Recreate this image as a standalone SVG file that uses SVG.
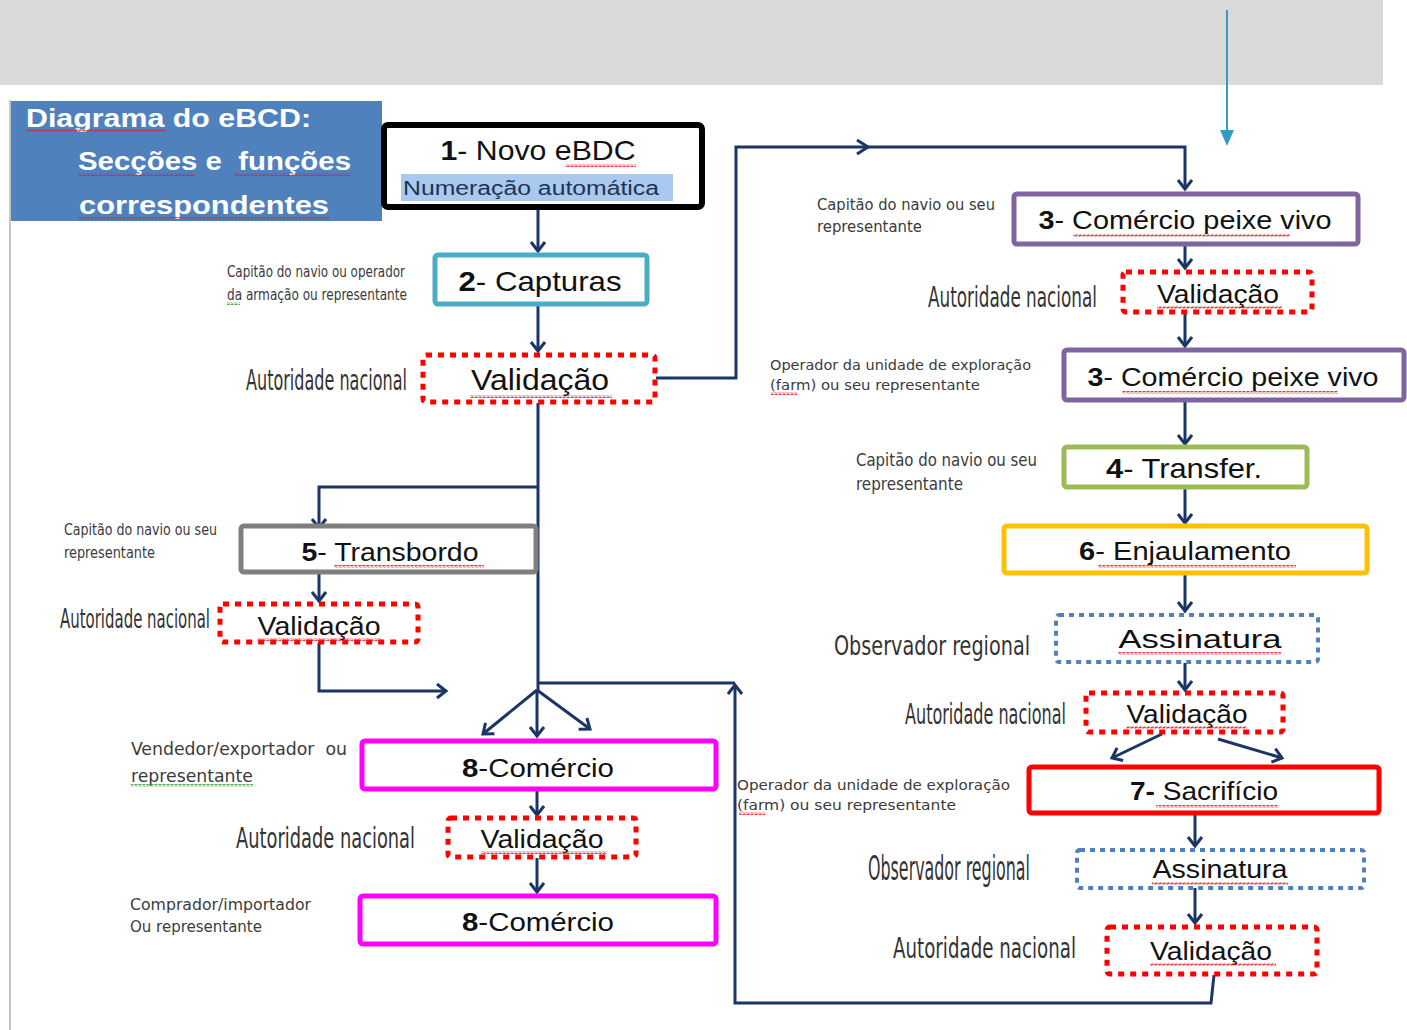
<svg xmlns="http://www.w3.org/2000/svg" width="1407" height="1030" viewBox="0 0 1407 1030">
<defs>
<marker id="ah" markerUnits="userSpaceOnUse" markerWidth="18" markerHeight="18" refX="11" refY="9" orient="auto">
<path d="M2,2 L11,9 L2,16" fill="none" stroke="#1b3566" stroke-width="3" stroke-linejoin="miter"/>
</marker>
<pattern id="wavyR" width="4" height="3" patternUnits="userSpaceOnUse">
<path d="M0,2.5 L1,0.5 L3,2.5 L4,0.5" fill="none" stroke="#e0202a" stroke-width="0.9"/>
</pattern>
<pattern id="wavyG" width="4" height="3" patternUnits="userSpaceOnUse">
<path d="M0,2.5 L1,0.5 L3,2.5 L4,0.5" fill="none" stroke="#3aa03a" stroke-width="0.9"/>
</pattern>
<style>
.box{fill:#fff;stroke-width:5}
.val{fill:#fff;stroke:#ff0000;stroke-width:5;stroke-dasharray:6 6}
.ass{fill:#fff;stroke:#4f81bd;stroke-width:4;stroke-dasharray:5 5}
.t{font-family:"Liberation Sans",Arial,sans-serif;fill:#111;text-anchor:middle}
.lab{font-family:"DejaVu Sans Condensed","DejaVu Sans",sans-serif;font-stretch:condensed;fill:#3b3b3b;white-space:pre}
.big{font-family:"DejaVu Sans Condensed","DejaVu Sans",sans-serif;font-stretch:condensed;fill:#333;font-size:16px}
.ttl{font-family:"Liberation Sans",Arial,sans-serif;font-weight:bold;fill:#fff;font-size:26px;white-space:pre}
.c{fill:none;stroke:#1b3566;stroke-width:3}
.w{fill:url(#wavyR)}
.wg{fill:url(#wavyG)}
</style>
</defs>
<rect x="0" y="0" width="1407" height="1030" fill="#fff"/>
<rect x="0" y="0" width="1383" height="85" fill="#d9d9d9"/>
<line x1="10" y1="100" x2="10" y2="1030" stroke="#c3c5cc" stroke-width="2"/>

<g id="teal-arrow">
<line x1="1227" y1="10" x2="1227" y2="132" stroke="#2e9fc0" stroke-width="2"/>
<polygon points="1220,130 1234,130 1227,146" fill="#2e9fc0"/>
</g>

<g id="title">
<rect x="11" y="101" width="371" height="120" fill="#4f81bd"/>
<text class="ttl" x="26" y="127" textLength="285" lengthAdjust="spacingAndGlyphs">Diagrama do eBCD:</text>
<text class="ttl" x="78" y="170" textLength="273" lengthAdjust="spacingAndGlyphs">Secções e  funções</text>
<text class="ttl" x="79" y="214" textLength="250" lengthAdjust="spacingAndGlyphs">correspondentes</text>
<rect class="w" x="26" y="129" width="139" height="3"/>
<rect class="w" x="78" y="173" width="117" height="3"/>
<rect class="w" x="235" y="173" width="116" height="3"/>
<rect class="w" x="79" y="217" width="250" height="3"/>
</g>

<g id="connectors">
<path class="c" d="M538,209 V251" marker-end="url(#ah)"/>
<path class="c" d="M538,305 V351" marker-end="url(#ah)"/>
<path class="c" d="M656,378 H736 V147 H1185 V189" marker-end="url(#ah)"/>
<path class="c" d="M857,140 L868,147 L857,154"/>
<path class="c" d="M1185,245 V268" marker-end="url(#ah)"/>
<path class="c" d="M1185,313 V346" marker-end="url(#ah)"/>
<path class="c" d="M1185,401 V444" marker-end="url(#ah)"/>
<path class="c" d="M1185,488 V523" marker-end="url(#ah)"/>
<path class="c" d="M1185,574 V611" marker-end="url(#ah)"/>
<path class="c" d="M1185,663 V690" marker-end="url(#ah)"/>
<path class="c" d="M1162,734 L1112,758" marker-end="url(#ah)"/>
<path class="c" d="M1218,739 L1282,758" marker-end="url(#ah)"/>
<path class="c" d="M1195,814 V846" marker-end="url(#ah)"/>
<path class="c" d="M1195,888 V923" marker-end="url(#ah)"/>
<path class="c" d="M1214,975 L1211,1003 H735 V685" marker-end="url(#ah)"/>
<path class="c" d="M537,683 H735"/>
<path class="c" d="M538,403 V690"/>
<path class="c" d="M538,487 H319 V528" marker-end="url(#ah)"/>
<path class="c" d="M319,530 V601" marker-end="url(#ah)"/>
<path class="c" d="M319,643 V691 H446" marker-end="url(#ah)"/>
<path class="c" d="M537,690 L483,734" marker-end="url(#ah)"/>
<path class="c" d="M537,690 V736" marker-end="url(#ah)"/>
<path class="c" d="M537,690 L590,729" marker-end="url(#ah)"/>
<path class="c" d="M537,790 V815" marker-end="url(#ah)"/>
<path class="c" d="M537,858 V892" marker-end="url(#ah)"/>
</g>

<g id="n1">
<rect x="384" y="125" width="318" height="82" rx="4" fill="#fff" stroke="#000" stroke-width="6"/>
<rect x="401" y="174" width="272" height="27" fill="#a9c9ee"/>
<text class="t" x="538" y="160" font-size="28" textLength="195" lengthAdjust="spacingAndGlyphs"><tspan font-weight="bold">1</tspan>- Novo eBDC</text>
<rect class="w" x="565" y="164" width="71" height="3"/>
<text class="t" x="531" y="195" font-size="20" textLength="256" lengthAdjust="spacingAndGlyphs" style="fill:#1f3255">Numeração automática</text>
</g>

<g id="n2">
<rect class="box" x="435" y="255" width="212" height="49" rx="3" stroke="#4bacc6"/>
<text class="t" x="540" y="291" font-size="28" textLength="163" lengthAdjust="spacingAndGlyphs"><tspan font-weight="bold">2</tspan>- Capturas</text>
<text class="lab" x="227" y="277" font-size="15" textLength="178" lengthAdjust="spacingAndGlyphs">Capitão do navio ou operador</text>
<text class="lab" x="227" y="300" font-size="15" textLength="180" lengthAdjust="spacingAndGlyphs">da armação ou representante</text>
<rect class="wg" x="227" y="302" width="13" height="3"/>
</g>

<g id="v1">
<rect class="val" x="423" y="355" width="232" height="47" rx="3"/>
<text class="t" x="540" y="390" font-size="29" textLength="138" lengthAdjust="spacingAndGlyphs">Validação</text>
<rect class="w" x="470" y="395" width="142" height="3"/>
<text class="big" transform="translate(246,390) scale(1,1.8)" textLength="161" lengthAdjust="spacingAndGlyphs">Autoridade nacional</text>
</g>

<g id="n3a">
<rect class="box" x="1014" y="194" width="344" height="50" rx="3" stroke="#8064a2"/>
<text class="t" x="1185" y="229" font-size="26" textLength="293" lengthAdjust="spacingAndGlyphs"><tspan font-weight="bold">3</tspan>- Comércio peixe vivo</text>
<rect class="w" x="1073" y="234" width="217" height="3"/>
<text class="lab" x="817" y="210" font-size="15" textLength="178" lengthAdjust="spacingAndGlyphs">Capitão do navio ou seu</text>
<text class="lab" x="817" y="232" font-size="15" textLength="105" lengthAdjust="spacingAndGlyphs">representante</text>
</g>

<g id="v2">
<rect class="val" x="1123" y="272" width="189" height="40" rx="3"/>
<text class="t" x="1218" y="303" font-size="26" textLength="122" lengthAdjust="spacingAndGlyphs">Validação</text>
<rect class="w" x="1157" y="306" width="125" height="3"/>
<text class="big" transform="translate(928,307) scale(1,1.8)" textLength="169" lengthAdjust="spacingAndGlyphs">Autoridade nacional</text>
</g>

<g id="n3b">
<rect class="box" x="1064" y="350" width="340" height="50" rx="3" stroke="#8064a2"/>
<text class="t" x="1233" y="386" font-size="26" textLength="291" lengthAdjust="spacingAndGlyphs"><tspan font-weight="bold">3</tspan>- Comércio peixe vivo</text>
<rect class="w" x="1122" y="391" width="216" height="3"/>
<text class="lab" x="770" y="370" font-size="14" textLength="261" lengthAdjust="spacingAndGlyphs">Operador da unidade de exploração</text>
<text class="lab" x="770" y="390" font-size="14" textLength="210" lengthAdjust="spacingAndGlyphs">(farm) ou seu representante</text>
<rect class="w" x="771" y="392" width="26" height="3"/>
</g>

<g id="n4">
<rect class="box" x="1064" y="447" width="243" height="40" rx="3" stroke="#9bbb59"/>
<text class="t" x="1184" y="478" font-size="28" textLength="156" lengthAdjust="spacingAndGlyphs"><tspan font-weight="bold">4</tspan>- Transfer.</text>
<text class="lab" x="856" y="466" font-size="17" textLength="181" lengthAdjust="spacingAndGlyphs">Capitão do navio ou seu</text>
<text class="lab" x="856" y="490" font-size="17" textLength="107" lengthAdjust="spacingAndGlyphs">representante</text>
</g>

<g id="n6">
<rect class="box" x="1004" y="526" width="363" height="47" rx="3" stroke="#ffc000"/>
<text class="t" x="1185" y="560" font-size="26" textLength="212" lengthAdjust="spacingAndGlyphs"><tspan font-weight="bold">6</tspan>- Enjaulamento</text>
<rect class="w" x="1098" y="565" width="198" height="3"/>
</g>

<g id="a1">
<rect class="ass" x="1056" y="615" width="262" height="47" rx="3"/>
<text class="t" x="1200" y="648" font-size="26" textLength="163" lengthAdjust="spacingAndGlyphs">Assinatura</text>
<rect class="w" x="1118" y="652" width="163" height="3"/>
<text class="big" transform="translate(834,655) scale(1,1.7)" font-size="17" textLength="196" lengthAdjust="spacingAndGlyphs">Observador regional</text>
</g>

<g id="v3">
<rect class="val" x="1086" y="693" width="197" height="39" rx="3"/>
<text class="t" x="1187" y="723" font-size="26" textLength="121" lengthAdjust="spacingAndGlyphs">Validação</text>
<rect class="w" x="1126" y="726" width="121" height="3"/>
<text class="big" transform="translate(905,724) scale(1,1.8)" textLength="161" lengthAdjust="spacingAndGlyphs">Autoridade nacional</text>
</g>

<g id="n7">
<rect class="box" x="1029" y="767" width="350" height="46" rx="3" stroke="#ff0000" stroke-width="6"/>
<text class="t" x="1204" y="800" font-size="26" textLength="148" lengthAdjust="spacingAndGlyphs"><tspan font-weight="bold">7- </tspan>Sacrifício</text>
<rect class="w" x="1156" y="805" width="122" height="3"/>
<text class="lab" x="737" y="790" font-size="14" textLength="273" lengthAdjust="spacingAndGlyphs">Operador da unidade de exploração</text>
<text class="lab" x="737" y="810" font-size="14" textLength="219" lengthAdjust="spacingAndGlyphs">(farm) ou seu representante</text>
<rect class="w" x="739" y="812" width="26" height="3"/>
</g>

<g id="a2">
<rect class="ass" x="1077" y="850" width="287" height="38" rx="3"/>
<text class="t" x="1220" y="878" font-size="26" textLength="135" lengthAdjust="spacingAndGlyphs">Assinatura</text>
<rect class="w" x="1152" y="882" width="136" height="3"/>
<text class="big" transform="translate(868,880) scale(1,2.1)" font-size="15" textLength="162" lengthAdjust="spacingAndGlyphs">Observador regional</text>
</g>

<g id="v4">
<rect class="val" x="1107" y="927" width="210" height="47" rx="3"/>
<text class="t" x="1211" y="960" font-size="26" textLength="122" lengthAdjust="spacingAndGlyphs">Validação</text>
<rect class="w" x="1150" y="963" width="126" height="3"/>
<text class="big" transform="translate(893,958) scale(1,1.8)" textLength="183" lengthAdjust="spacingAndGlyphs">Autoridade nacional</text>
</g>

<g id="n5">
<rect class="box" x="241" y="526" width="295" height="46" rx="3" stroke="#7f7f7f"/>
<text class="t" x="390" y="561" font-size="26" textLength="177" lengthAdjust="spacingAndGlyphs"><tspan font-weight="bold">5</tspan>- Transbordo</text>
<rect class="w" x="334" y="565" width="150" height="3"/>
<text class="lab" x="64" y="535" font-size="15" textLength="153" lengthAdjust="spacingAndGlyphs">Capitão do navio ou seu</text>
<text class="lab" x="64" y="558" font-size="15" textLength="91" lengthAdjust="spacingAndGlyphs">representante</text>
</g>

<g id="v5">
<rect class="val" x="220" y="604" width="198" height="38" rx="3"/>
<text class="t" x="319" y="635" font-size="26" textLength="123" lengthAdjust="spacingAndGlyphs">Validação</text>
<rect class="w" x="257" y="638" width="125" height="3"/>
<text class="big" transform="translate(60,628) scale(1,1.7)" font-size="15" textLength="150" lengthAdjust="spacingAndGlyphs">Autoridade nacional</text>
</g>

<g id="n8a">
<rect class="box" x="362" y="741" width="354" height="48" rx="3" stroke="#ff00ff" stroke-width="6"/>
<text class="t" x="538" y="777" font-size="26" textLength="152" lengthAdjust="spacingAndGlyphs"><tspan font-weight="bold">8</tspan>-Comércio</text>
<text class="lab" x="131" y="755" font-size="17" textLength="216" lengthAdjust="spacingAndGlyphs">Vendedor/exportador  ou</text>
<text class="lab" x="131" y="782" font-size="17" textLength="122" lengthAdjust="spacingAndGlyphs">representante</text>
<rect class="wg" x="131" y="784" width="122" height="3"/>
</g>

<g id="v6">
<rect class="val" x="448" y="818" width="188" height="39" rx="3"/>
<text class="t" x="542" y="848" font-size="26" textLength="123" lengthAdjust="spacingAndGlyphs">Validação</text>
<rect class="w" x="481" y="851" width="126" height="3"/>
<text class="big" transform="translate(236,848) scale(1,1.8)" textLength="179" lengthAdjust="spacingAndGlyphs">Autoridade nacional</text>
</g>

<g id="n8b">
<rect class="box" x="360" y="896" width="356" height="48" rx="3" stroke="#ff00ff" stroke-width="6"/>
<text class="t" x="538" y="931" font-size="26" textLength="152" lengthAdjust="spacingAndGlyphs"><tspan font-weight="bold">8</tspan>-Comércio</text>
<text class="lab" x="130" y="910" font-size="15" textLength="181" lengthAdjust="spacingAndGlyphs">Comprador/importador</text>
<text class="lab" x="130" y="932" font-size="15" textLength="132" lengthAdjust="spacingAndGlyphs">Ou representante</text>
</g>
</svg>
